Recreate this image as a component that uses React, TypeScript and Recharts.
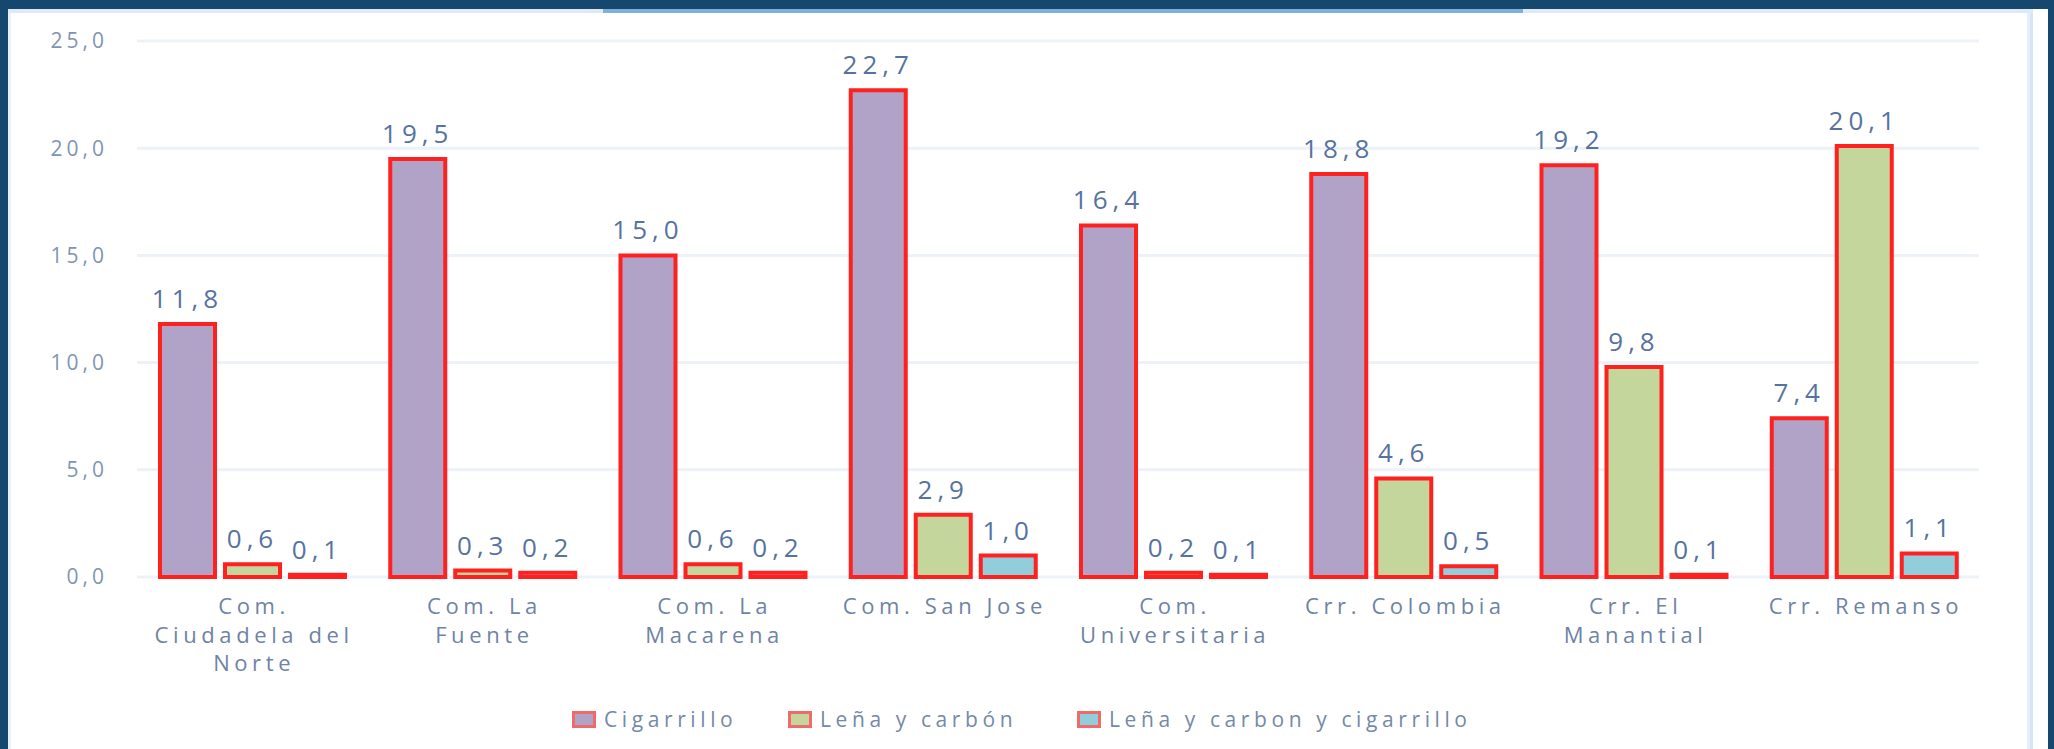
import React from "react";
import { BarChart, Bar, XAxis, YAxis, CartesianGrid, LabelList, Legend } from "recharts";

const categories = [
  "Com. Ciudadela del Norte",
  "Com. La Fuente",
  "Com. La Macarena",
  "Com. San Jose",
  "Com. Universitaria",
  "Crr. Colombia",
  "Crr. El Manantial",
  "Crr. Remanso",
];

// how the category names wrap under the axis
const categoryLines = [
  ["Com.", "Ciudadela del", "Norte"],
  ["Com. La", "Fuente"],
  ["Com. La", "Macarena"],
  ["Com. San Jose"],
  ["Com.", "Universitaria"],
  ["Crr. Colombia"],
  ["Crr. El", "Manantial"],
  ["Crr. Remanso"],
];

const cigarrillo = [11.8, 19.5, 15.0, 22.7, 16.4, 18.8, 19.2, 7.4];
const lenaCarbon = [0.6, 0.3, 0.6, 2.9, 0.2, 4.6, 9.8, 20.1];
const lenaCarbonCigarrillo = [0.1, 0.2, 0.2, 1.0, 0.1, 0.5, 0.1, 1.1];

const yTicks = [0, 5, 10, 15, 20, 25];

const seriesNames = ["Cigarrillo", "Leña y carbón", "Leña y carbon y cigarrillo"];
const seriesColors = ["#b1a3c7", "#c4d69c", "#92cddc"];

const data = categories.map((name, i) => ({
  name,
  cig: cigarrillo[i],
  lena: lenaCarbon[i],
  both: lenaCarbonCigarrillo[i],
}));

const fmt = (v: number) => v.toFixed(1).replace(".", ",");

const FONT = "'Open Sans', sans-serif";

const CategoryTick = (props: any) => {
  const { x, y, payload } = props;
  const lines = categoryLines[payload.index] || [payload.value];
  return (
    <text
      x={x + 2}
      y={y}
      textAnchor="middle"
      fill="#6f83a5"
      fontSize={22}
      fontFamily={FONT}
      letterSpacing={4.6}
    >
      {lines.map((l: string, i: number) => (
        <tspan key={i} x={x + 2} dy={i === 0 ? 29 : 28.5}>
          {l}
        </tspan>
      ))}
    </text>
  );
};

const LegendBox = () => {
  const widths = [216, 289, 420];
  return (
    <div
      style={{
        display: "flex",
        height: 40,
        alignItems: "center",
        paddingLeft: 572,
        fontFamily: FONT,
        fontSize: 21,
        letterSpacing: 4.6,
        color: "#7589a8",
      }}
    >
      {seriesNames.map((n, i) => (
        <div key={n} style={{ display: "flex", alignItems: "center", width: widths[i] }}>
          <span
            style={{
              display: "inline-block",
              width: 18,
              height: 11,
              background: seriesColors[i],
              border: "3px solid #f06a6a",
              marginRight: 8,
            }}
          />
          <span>{n}</span>
        </div>
      ))}
    </div>
  );
};

const labelStyle = {
  fill: "#56739f",
  fontSize: 26,
  fontFamily: FONT,
  letterSpacing: 5,
};

export default function App() {
  return (
    <div
      style={{
        position: "fixed",
        left: 0,
        top: 0,
        width: 2054,
        height: 749,
        background: "#15476f",
        overflow: "hidden",
      }}
    >
      <div style={{ position: "absolute", left: 8, top: 9, width: 2040, height: 740, background: "#ffffff" }} />
      <div style={{ position: "absolute", left: 8, top: 9, width: 2025, height: 4, background: "#dde9f5" }} />
      <div style={{ position: "absolute", left: 603, top: 9, width: 920, height: 4, background: "#7fb1d7" }} />
      <div style={{ position: "absolute", left: 8, top: 13, width: 3, height: 736, background: "#e8f0f8" }} />
      <div style={{ position: "absolute", left: 2027, top: 13, width: 3, height: 736, background: "#e6eff8" }} />
      <div style={{ position: "absolute", left: 2030, top: 13, width: 3, height: 736, background: "#d6e4f3" }} />
      <div style={{ position: "absolute", left: 0, top: 0 }}>
        <BarChart
          width={2054}
          height={749}
          data={data}
          margin={{ top: 41, right: 75, bottom: 10, left: 0 }}
          barSize={55}
          barGap={10}
        >
          <CartesianGrid vertical={false} stroke="#edf2f8" strokeWidth={3} />
          <XAxis
            dataKey="name"
            axisLine={false}
            tickLine={false}
            interval={0}
            height={122}
            tick={<CategoryTick />}
          />
          <YAxis
            domain={[0, 25]}
            ticks={yTicks}
            axisLine={false}
            tickLine={false}
            width={137}
            tickMargin={23}
            tickFormatter={fmt}
            tick={{ fill: "#8195b3", fontSize: 21, fontFamily: FONT, letterSpacing: 4 }}
          />
          <Legend verticalAlign="bottom" content={<LegendBox />} wrapperStyle={{ left: 0, width: 2054 }} />
          <Bar dataKey="cig" name={seriesNames[0]} fill={seriesColors[0]} stroke="#ff2020" strokeWidth={4} isAnimationActive={false}>
            <LabelList dataKey="cig" position="top" offset={16} formatter={(v: any) => fmt(Number(v))} style={labelStyle} />
          </Bar>
          <Bar dataKey="lena" name={seriesNames[1]} fill={seriesColors[1]} stroke="#ff2020" strokeWidth={4} isAnimationActive={false}>
            <LabelList dataKey="lena" position="top" offset={16} formatter={(v: any) => fmt(Number(v))} style={labelStyle} />
          </Bar>
          <Bar dataKey="both" name={seriesNames[2]} fill={seriesColors[2]} stroke="#ff2020" strokeWidth={4} isAnimationActive={false}>
            <LabelList dataKey="both" position="top" offset={16} formatter={(v: any) => fmt(Number(v))} style={labelStyle} />
          </Bar>
        </BarChart>
      </div>
    </div>
  );
}
